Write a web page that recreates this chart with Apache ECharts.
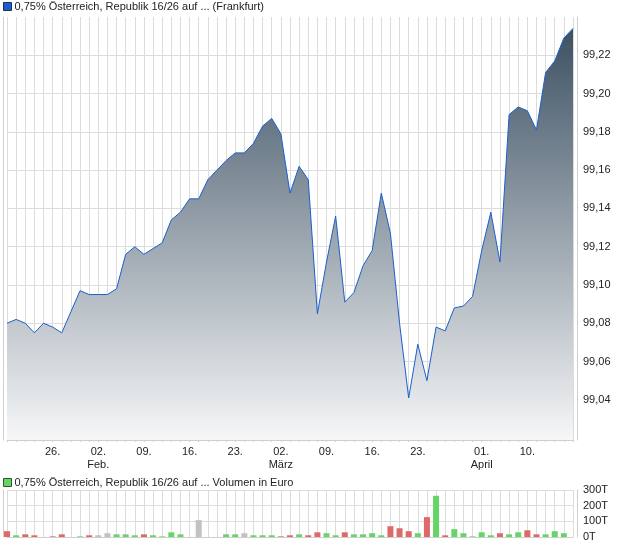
<!DOCTYPE html>
<html>
<head>
<meta charset="utf-8">
<script src="https://cdn.jsdelivr.net/npm/echarts@6/dist/echarts.min.js"></script>
<style>
  html, body { margin: 0; padding: 0; background: #fff; }
  #chart { width: 620px; height: 546px; }
</style>
</head>
<body>
<div id="chart"></div>
<script>
// trading days (Frankfurt), 19.01. - 17.04.
const dates = [
  "19.01.", "20.01.", "21.01.", "22.01.", "23.01.", "26.01.", "27.01.", "28.01.", "29.01.", "30.01.",
  "02.02.", "03.02.", "04.02.", "05.02.", "06.02.", "09.02.", "10.02.", "11.02.", "12.02.", "13.02.",
  "16.02.", "17.02.", "18.02.", "19.02.", "20.02.", "23.02.", "24.02.", "25.02.", "26.02.", "27.02.",
  "02.03.", "03.03.", "04.03.", "05.03.", "06.03.", "09.03.", "10.03.", "11.03.", "12.03.", "13.03.",
  "16.03.", "17.03.", "18.03.", "19.03.", "20.03.", "23.03.", "24.03.", "25.03.", "26.03.", "27.03.",
  "30.03.", "31.03.", "01.04.", "02.04.", "07.04.", "08.04.", "09.04.", "10.04.", "13.04.", "14.04.",
  "15.04.", "16.04.", "17.04."
];

const price = [
  99.080, 99.082, 99.080, 99.075, 99.080, 99.078, 99.075, 99.086, 99.097, 99.095,
  99.095, 99.095, 99.098, 99.116, 99.120, 99.116, 99.119, 99.122, 99.134, 99.138,
  99.145, 99.145, 99.155, 99.160, 99.165, 99.169, 99.169, 99.174, 99.183, 99.187,
  99.179, 99.148, 99.162, 99.155, 99.085, 99.112, 99.136, 99.091, 99.096, 99.110,
  99.118, 99.148, 99.127, 99.080, 99.041, 99.069, 99.050, 99.078, 99.076, 99.088,
  99.089, 99.094, 99.118, 99.138, 99.112, 99.189, 99.193, 99.191, 99.181, 99.211,
  99.217, 99.229, 99.234
];

// volume in thousand euro (T)
const volume = [
  37, 11, 17, 11, 0, 4, 17, 0, 4, 11,
  11, 24, 17, 17, 11, 17, 11, 4, 30, 17,
  0, 108, 0, 0, 17, 17, 24, 11, 11, 11,
  4, 11, 17, 11, 30, 24, 11, 30, 17, 17,
  24, 11, 69, 56, 37, 24, 127, 263, 11, 50,
  24, 4, 30, 11, 24, 17, 30, 43, 17, 17,
  37, 24, 0
];

// 1 = up, -1 = down, 0 = unchanged
const volumeDir = [
  -1, 1, -1, -1, 0, -1, -1, 0, 1, -1,
  0, 0, 1, 1, 1, -1, 1, 1, 1, 1,
  0, 0, 0, 0, 1, 1, 0, 1, 1, 1,
  -1, -1, 1, -1, -1, 1, 1, -1, 1, 1,
  1, 1, -1, -1, -1, 1, -1, 1, -1, 1,
  1, 1, 1, 1, -1, 1, 1, -1, -1, 1,
  1, 1, 0
];

const xTickLabels = [
  ["26.01.", "26."], ["02.02.", "02.\nFeb."], ["09.02.", "09."], ["16.02.", "16."],
  ["23.02.", "23."], ["02.03.", "02.\nMärz"], ["09.03.", "09."], ["16.03.", "16."],
  ["23.03.", "23."], ["01.04.", "01.\nApril"], ["10.04.", "10."]
];

const priceName = "0,75% Österreich, Republik 16/26 auf ... (Frankfurt)";
const volumeName = "0,75% Österreich, Republik 16/26 auf ... Volumen in Euro";

const tickMap = Object.fromEntries(xTickLabels);
const dirColor = { "1": "#66d466", "-1": "#df6868", "0": "#c2c2c2" };
const font = "'Liberation Sans', Arial, sans-serif";
const gridColor = "#dcdcdc";
const frameColor = "#cfcfcf";

const chart = echarts.init(document.getElementById("chart"));

chart.setOption({
  animation: false,
  textStyle: { fontFamily: font },
  legend: [
    {
      data: [priceName],
      left: 3,
      top: 1,
      padding: 0,
      icon: "rect",
      itemWidth: 8,
      itemHeight: 8,
      selectedMode: false,
      itemStyle: { borderColor: "#1d2f55", borderWidth: 1 },
      textStyle: { fontFamily: font, fontSize: 11, color: "#222", padding: [0, 0, 0, -2] },
    },
    {
      data: [volumeName],
      left: 3,
      top: 477,
      padding: 0,
      icon: "rect",
      itemWidth: 8,
      itemHeight: 8,
      selectedMode: false,
      itemStyle: { borderColor: "#2d5a2d", borderWidth: 1 },
      textStyle: { fontFamily: font, fontSize: 11, color: "#222", padding: [0, 0, 0, -2] },
    },
  ],
  grid: [
    { left: 7, right: 47, top: 17, bottom: 106 },
    { left: 7, right: 47, top: 490, bottom: 9 },
  ],
  xAxis: [
    {
      type: "category",
      gridIndex: 0,
      data: dates,
      boundaryGap: false,
      axisLine: { show: true, lineStyle: { color: frameColor } },
      axisTick: { show: true, interval: 0, length: 2, lineStyle: { color: frameColor } },
      splitLine: { show: true, interval: 0, lineStyle: { color: gridColor, width: 1 } },
      axisLabel: {
        interval: (i, v) => tickMap[v] !== undefined,
        formatter: (v) => tickMap[v] || "",
        color: "#222",
        fontSize: 11,
        fontFamily: font,
        lineHeight: 13,
        margin: 5,
      },
    },
    {
      type: "category",
      gridIndex: 1,
      data: dates,
      boundaryGap: false,
      axisLine: { show: true, lineStyle: { color: frameColor } },
      axisTick: { show: false },
      axisLabel: { show: false },
      splitLine: { show: true, interval: 0, lineStyle: { color: gridColor, width: 1 } },
    },
  ],
  yAxis: [
    {
      type: "value",
      gridIndex: 0,
      position: "right",
      offset: 4,
      min: 99.019,
      max: 99.24,
      minInterval: 0.02,
      maxInterval: 0.02,
      axisLine: { show: true, lineStyle: { color: frameColor } },
      axisTick: { show: false },
      splitLine: { show: true, showMaxLine: false, lineStyle: { color: gridColor, width: 1 } },
      axisLabel: {
        showMinLabel: false,
        showMaxLabel: false,
        formatter: (v) => (v < 99.03 ? "" : v.toFixed(2).replace(".", ",")),
        color: "#222",
        fontSize: 11,
        fontFamily: font,
        margin: 6,
      },
    },
    {
      type: "value",
      gridIndex: 0,
      position: "left",
      offset: 4,
      min: 0,
      max: 1,
      axisLine: { show: true, lineStyle: { color: frameColor } },
      axisTick: { show: false },
      axisLabel: { show: false },
      splitLine: { show: false },
    },
    {
      type: "value",
      gridIndex: 1,
      position: "right",
      offset: 4,
      min: 0,
      max: 300,
      interval: 100,
      axisLine: { show: true, lineStyle: { color: frameColor } },
      axisTick: { show: false },
      splitLine: { show: true, lineStyle: { color: gridColor, width: 1 } },
      axisLabel: {
        formatter: (v) => v + "T",
        color: "#222",
        fontSize: 11,
        fontFamily: font,
        margin: 6,
      },
    },
    {
      type: "value",
      gridIndex: 1,
      position: "left",
      offset: 4,
      min: 0,
      max: 1,
      axisLine: { show: true, lineStyle: { color: frameColor } },
      axisTick: { show: false },
      axisLabel: { show: false },
      splitLine: { show: false },
    },
  ],
  series: [
    {
      name: priceName,
      type: "line",
      xAxisIndex: 0,
      yAxisIndex: 0,
      data: price,
      color: "#1a5fcc",
      symbol: "none",
      lineStyle: { color: "#1a5fcc", width: 1 },
      areaStyle: {
        opacity: 1,
        color: new echarts.graphic.LinearGradient(0, 0, 0, 1, [
          { offset: 0, color: "#3d5163" },
          { offset: 1, color: "#f6f7f8" },
        ]),
      },
    },
    {
      name: volumeName,
      type: "bar",
      xAxisIndex: 1,
      yAxisIndex: 2,
      barWidth: 6,
      clip: false,
      color: "#66d466",
      data: volume.map((v, i) => ({ value: v, itemStyle: { color: dirColor[volumeDir[i]] } })),
    },
  ],
});
</script>
</body>
</html>
